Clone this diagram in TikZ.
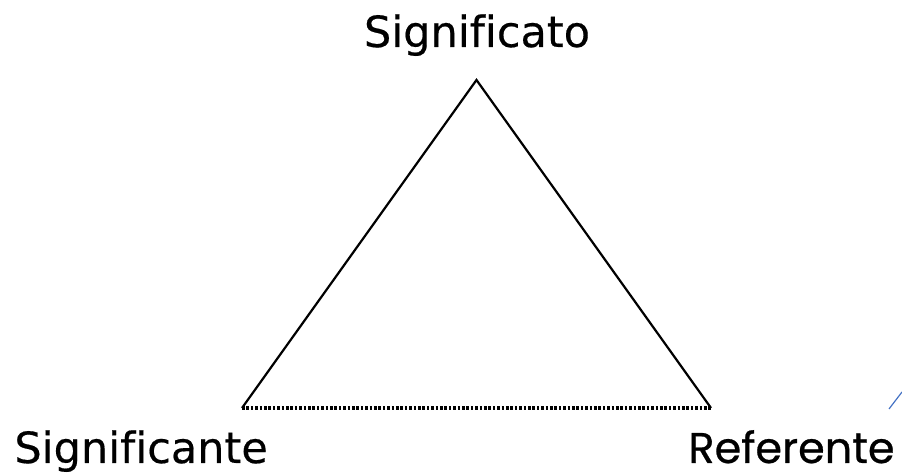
\documentclass[tikz,border=0pt]{standalone}
\usepackage{fontspec}
\setmainfont[Ligatures=NoCommon,FakeBold=0.4]{DejaVu Sans}
\newfontfamily\reffont[FakeBold=0.6]{Poppins}
\begin{document}
\begin{tikzpicture}[x=0.5pt,y=-0.5pt,
  edge/.style={draw=black,line width=1.1pt},
  dotedge/.style={draw=black,line width=1.6pt,dash pattern=on 1.3pt off 0.9pt},
  lbl/.style={inner sep=0pt,font=\fontsize{21.5}{24}\selectfont}]
\useasboundingbox (0,0) rectangle (902,474);
\coordinate (top) at (476.5,80);
\coordinate (bl) at (242,408);
\coordinate (br) at (711,408);
\draw[edge,line join=miter] (bl) -- (top) -- (br);
\draw[dotedge] (bl) -- (br);
\node[lbl,anchor=base] (sig) at (477,47) {Significato};
\node[lbl,anchor=base west] (sgn) at (14,463) {Significante};
\node[lbl,anchor=base east,font=\reffont\fontsize{21.5}{24}\selectfont] (ref) at (895,463) {Referente};
\coordinate (b1) at (889,409);
\coordinate (b2) at (902,392);
\draw[draw={rgb,255:red,68;green,114;blue,196},line width=0.6pt] (b1) -- (b2);
\end{tikzpicture}
\end{document}
